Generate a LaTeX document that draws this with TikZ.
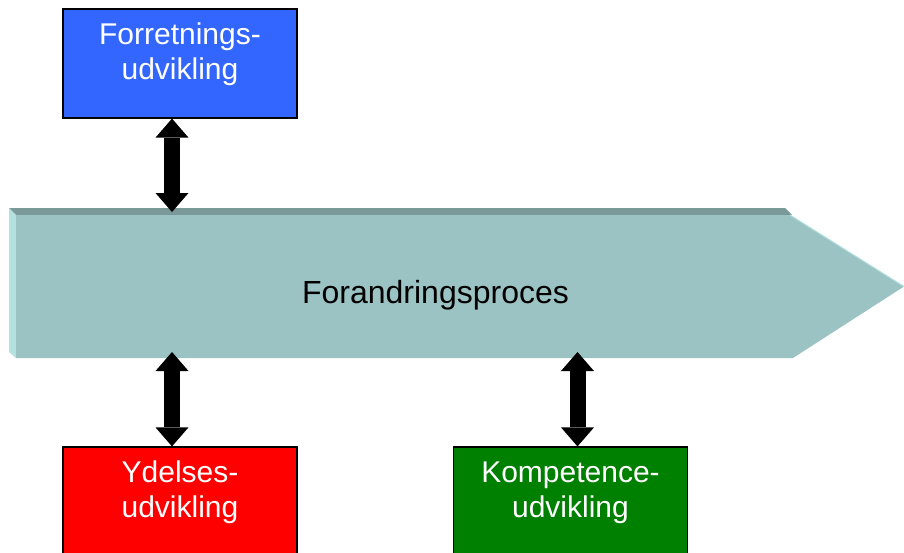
\documentclass[tikz,border=0pt]{standalone}
\usepackage{fontspec}
\setmainfont{Liberation Sans}
\usetikzlibrary{arrows.meta}

\definecolor{procfront}{RGB}{156,195,195}
\definecolor{proctop}{RGB}{122,153,153}
\definecolor{procside}{RGB}{180,224,224}
\definecolor{forrblue}{RGB}{51,102,255}
\definecolor{ydelred}{RGB}{255,0,0}
\definecolor{kompgreen}{RGB}{0,128,0}

\tikzset{
  unitbox/.style={draw=black, line width=0.9pt, text=white, align=center,
    minimum width=175.5pt, minimum height=81.75pt, inner sep=0pt,
    font=\fontsize{22.5}{26.25}\selectfont, text depth=18.2pt},
  link/.style={line width=12pt,
    {Triangle[width=24.75pt,length=14.25pt,line width=0pt]}-{Triangle[width=24.75pt,length=14.25pt,line width=0pt]}}
}

\begin{document}
\begin{tikzpicture}[x=0.75pt,y=-0.75pt]
        \useasboundingbox (0,0) rectangle (904,553);
        \fill[proctop] (9,208) -- (785,208) -- (792,215) -- (16,215) -- cycle;
        \fill[procside] (9,208) -- (16,215) -- (16,358) -- (9,352) -- cycle;
        \fill[procfront] (16,215) -- (790,215) -- (904,286.5) -- (793,358) -- (16,358) -- cycle;
        \draw[procside,line width=0.75pt] (790,215) -- (904,286.5);
        \node[anchor=base,font=\fontsize{24}{28.8}\selectfont] (proc) at (435.5,303) {Forandringsproces};
        \coordinate (ftop) at (172,212);
        \coordinate (ybot) at (172,352);
        \coordinate (kbot) at (577.5,352);
        \node[unitbox,fill=forrblue] (forr) at (180,63.5) {Forretnings-\\udvikling};
        \node[unitbox,fill=ydelred] (ydel) at (180,501.5) {Ydelses-\\udvikling};
        \node[unitbox,fill=kompgreen] (komp) at (570.5,501.5) {Kompetence-\\udvikling};
        \draw[link] (ftop |- forr.south) -- (ftop);
        \draw[link] (ybot) -- (ybot |- ydel.north);
        \draw[link] (kbot) -- (kbot |- komp.north);
    \end{tikzpicture}
\end{document}
